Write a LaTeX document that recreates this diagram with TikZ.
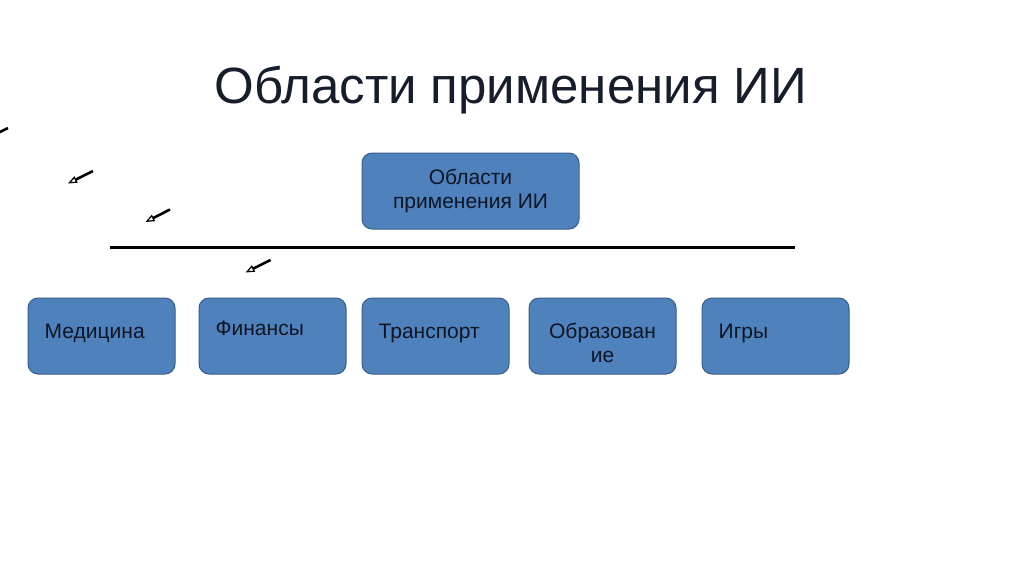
\documentclass[tikz,border=0pt]{standalone}
\usepackage{fontspec}
\setmainfont{Liberation Sans}
\definecolor{areablue}{RGB}{79, 129, 189}
\definecolor{areaedge}{RGB}{56, 93, 138}
\definecolor{titlenavy}{RGB}{22, 30, 44}
\definecolor{textnavy}{RGB}{12, 22, 36}
\usetikzlibrary{arrows.meta, positioning, calc}
\tikzset{
    areabox/.style={draw=areaedge, fill=areablue, rectangle, rounded corners=10pt, line width=1pt, minimum width=147pt, minimum height=76pt},
    rootbox/.style={areabox, minimum width=217pt, align=center, text=textnavy, font=\fontsize{21}{24}\selectfont},
    areatext/.style={inner sep=0pt, text=textnavy, font=\fontsize{21}{24}\selectfont},
    titletext/.style={inner sep=0pt, text=titlenavy, font=\fontsize{51}{60}\selectfont},
    strayarrow/.style={-{Triangle[open, length=9pt, width=7pt, line width=1.2pt]}, line width=2.6pt, black},
}
\begin{document}
\begin{tikzpicture}[x=1pt, y=-1pt]
    \useasboundingbox[fill=white] (0,0) rectangle (1024,576);

    % Title
    \node[titletext, anchor=base] (title) at (511,103.5) {Области применения ИИ};

    % Root box
    \node[rootbox] (root) at (470.5,191) {Области\\применения ИИ};

    % Separator line
    \coordinate (lineL) at (110,247.5);
    \coordinate (lineR) at (795,247.5);
    \draw[line width=2.5pt] (lineL) -- (lineR);

    % Application areas
    \node[areabox] (med) at (101.5,336) {};
    \node[areabox] (fin) at (272.5,336) {};
    \node[areabox] (trans) at (435.5,336) {};
    \node[areabox] (edu) at (602.5,336) {};
    \node[areabox] (games) at (775.5,336) {};

    % Box texts
    \node[areatext, anchor=west] (medtext) at ([xshift=17pt, yshift=3pt]med.west) {Медицина};
    \node[areatext, anchor=west] (fintext) at ([xshift=17pt, yshift=8pt]fin.west) {Финансы};
    \node[areatext, anchor=west] (transtext) at ([xshift=17pt, yshift=3pt]trans.west) {Транспорт};
    \node[areatext, align=center] (edutext) at ([yshift=-7pt]edu.center) {Образован\\ие};
    \node[areatext, anchor=west] (gamestext) at ([xshift=17pt, yshift=3pt]games.west) {Игры};

    % Stray arrows
    \coordinate (a1s) at (8,128);
    \coordinate (a1e) at (-16,140);
    \coordinate (a2s) at (93,171);
    \coordinate (a2e) at (68,183.5);
    \coordinate (a3s) at (170,209.5);
    \coordinate (a3e) at (145.5,222);
    \coordinate (a4s) at (270.5,260);
    \coordinate (a4e) at (245.5,272.5);
    \draw[strayarrow] (a1s) -- (a1e);
    \draw[strayarrow] (a2s) -- (a2e);
    \draw[strayarrow] (a3s) -- (a3e);
    \draw[strayarrow] (a4s) -- (a4e);
\end{tikzpicture}
\end{document}
